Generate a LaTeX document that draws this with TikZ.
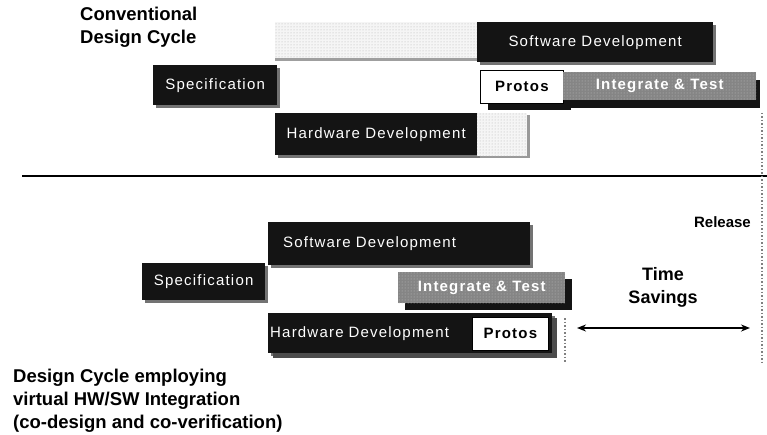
\documentclass[tikz,border=0pt]{standalone}
\usepackage{fontspec}
\setmainfont{Liberation Sans}
\newfontfamily\boxfont{Liberation Sans}[LetterSpace=8]
\usetikzlibrary{patterns,shadows,arrows.meta}
\begin{document}
\begin{tikzpicture}[x=1pt,y=-1pt,
  >={Stealth[length=9pt,width=7pt]},
  darkbox/.style={fill=black!92, text=white, font=\boxfont\fontsize{15}{18}\selectfont,
    inner sep=0pt, anchor=north west,
    drop shadow={shadow xshift=3pt, shadow yshift=-3pt, fill=black!55, opacity=1}},
  hatchbox/.style={fill=gray!8, postaction={pattern=dots, pattern color=gray!60},
    inner sep=0pt, anchor=north west},
  graybox/.style={fill=black!48, postaction={pattern=dots, pattern color=black!25},
    text=white, font=\boxfont\bfseries\fontsize{15}{18}\selectfont, inner sep=0pt, anchor=north west},
  protobox/.style={fill=white, draw=black, line width=0.8pt, text=black,
    font=\boxfont\bfseries\fontsize{15}{18}\selectfont, inner sep=0pt, anchor=north west},
  title/.style={font=\bfseries\fontsize{18.5}{23}\selectfont, align=left, inner sep=0pt, anchor=north west},
  sep/.style={line width=2.5pt, black},
  dots/.style={line width=1.2pt, gray, dash pattern=on 1.5pt off 2pt}
]
\useasboundingbox (0,0) rectangle (767,435);

% ---------- top: conventional ----------
\node[title] (t1) at (80,7) {Conventional\\Design Cycle};

\node[hatchbox, minimum width=202pt, minimum height=36pt,
  drop shadow={shadow xshift=0pt, shadow yshift=-3pt, fill=gray!75, opacity=1}] (swhatch) at (275,22) {};
\node[darkbox, minimum width=236pt, minimum height=40pt] (sw1) at (477,22) {Software Development};

\node[darkbox, minimum width=124pt, minimum height=40pt] (spec1) at (153,65) {Specification};

\node[protobox, minimum width=83pt, minimum height=33pt,
  drop shadow={shadow xshift=8pt, shadow yshift=-7pt, fill=black!92, opacity=1}] (pro1) at (480,70) {Protos};
\node[graybox, minimum width=193pt, minimum height=28pt,
  drop shadow={shadow xshift=4pt, shadow yshift=-8pt, fill=black!92, opacity=1}] (it1) at (563,72) {Integrate \& Test};

\node[darkbox, minimum width=202pt, minimum height=42pt] (hw1) at (275,113) {Hardware Development};
\node[hatchbox, minimum width=50pt, minimum height=43pt,
  drop shadow={shadow xshift=3pt, shadow yshift=-2pt, fill=gray!80, opacity=1}] (hwhatch) at (477,113) {};

% separator
\coordinate (sepL) at (22,176);
\coordinate (sepR) at (767,176);
\draw[sep] (sepL) -- (sepR);

% release line
\coordinate (relT) at (762,113);
\coordinate (relB) at (762,363);
\draw[dots] (relT) -- (relB);

% ---------- bottom: co-design ----------
\node[font=\bfseries\fontsize{15}{18}\selectfont, inner sep=0pt, anchor=base east] (rel) at (751,228) {Release};

\node[darkbox, minimum width=262pt, minimum height=43pt, text width=232pt, align=left,
  inner xsep=15pt] (sw2) at (268,222) {Software Development};

\node[darkbox, minimum width=123pt, minimum height=37pt] (spec2) at (142,263) {Specification};

\node[graybox, minimum width=167pt, minimum height=31pt,
  drop shadow={shadow xshift=7pt, shadow yshift=-7pt, fill=black!92, opacity=1}] (it2) at (398,272) {Integrate \& Test};

\node[darkbox, minimum width=284pt, minimum height=40pt, text width=280pt, align=left,
  inner xsep=2pt, drop shadow={shadow xshift=5pt, shadow yshift=-5pt, fill=black!70, opacity=1}] (hw2) at (268,313) {Hardware Development};
\node[protobox, minimum width=76pt, minimum height=33pt] (pro2) at (472,317) {Protos};

\coordinate (hwT) at (565,318);
\coordinate (hwB) at (565,362);
\draw[dots] (hwT) -- (hwB);

\node[font=\bfseries\fontsize{18}{23}\selectfont, align=center, inner sep=0pt, anchor=north] (ts) at (663,267) {Time\\Savings};

\coordinate (tsL) at (577,328);
\coordinate (tsR) at (750,328);
\draw[line width=1.5pt, <->] (tsL) -- (tsR);

\node[title] (t2) at (13,369) {Design Cycle employing\\virtual HW/SW Integration\\(co-design and co-verification)};
\end{tikzpicture}
\end{document}
